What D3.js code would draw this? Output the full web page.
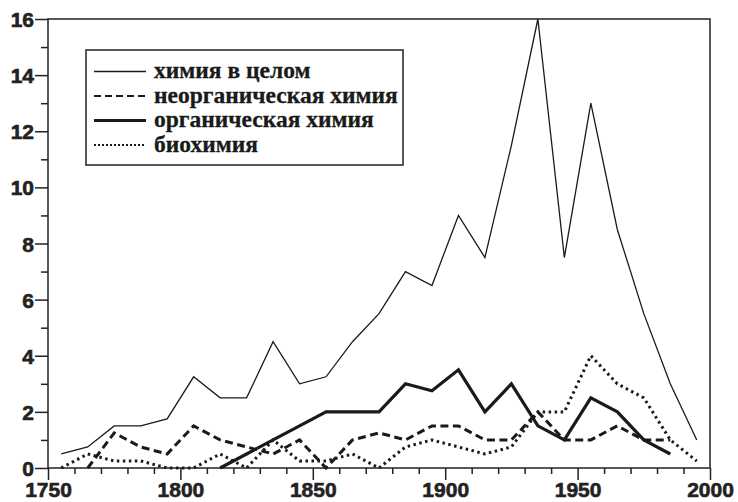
<!DOCTYPE html>
<html>
<head>
<meta charset="utf-8">
<script src="https://cdn.jsdelivr.net/npm/d3@7.9.0/dist/d3.min.js"></script>
<style>
  body { margin: 0; background: #fff; }
  .tick line { stroke: #222; stroke-width: 1.5; }
</style>
</head>
<body>
<svg id="chart" width="738" height="502"></svg>
<script>
const years = [1755, 1765, 1775, 1785, 1795, 1805, 1815, 1825, 1835, 1845, 1855, 1865, 1875,
               1885, 1895, 1905, 1915, 1925, 1935, 1945, 1955, 1965, 1975, 1985, 1995];
const total     = [0.5, 0.75, 1.5, 1.5, 1.75, 3.25, 2.5, 2.5, 4.5, 3, 3.25, 4.5, 5.5,
                   7, 6.5, 9, 7.5, 11.5, 16, 7.5, 13, 8.5, 5.5, 3, 1];
const inorganic = [null, 0, 1.25, 0.75, 0.5, 1.5, 1, 0.75, 0.5, 1, 0, 1, 1.25,
                   1, 1.5, 1.5, 1, 1, 2, 1, 1, 1.5, 1, 1, null];
const organic   = [null, null, null, null, null, null, 0, 0.5, 1, 1.5, 2, 2, 2,
                   3, 2.75, 3.5, 2, 3, 1.5, 1, 2.5, 2, 1, 0.5, null];
const biochem   = [0, 0.5, 0.25, 0.25, 0, 0, 0.5, 0, 1, 0.25, 0.25, 0.5, 0,
                   0.75, 1, 0.75, 0.5, 0.75, 2, 2, 4, 3, 2.5, 1, 0.25];

const seriesNames = ['химия в целом', 'неорганическая химия', 'органическая химия', 'биохимия'];
const xMajor = [1750, 1800, 1850, 1900, 1950, 2000];
const xMinor = [1760, 1770, 1780, 1790, 1810, 1820, 1830, 1840, 1860, 1870, 1880, 1890,
                1910, 1920, 1930, 1940, 1960, 1970, 1980, 1990];
const yMajor = [0, 2, 4, 6, 8, 10, 12, 14, 16];
const yMinor = [1, 3, 5, 7, 9, 11, 13, 15];

const styles = [
  { width: 1.3, dash: null,    legendWidth: 1.3, legendDash: null },
  { width: 3,   dash: '8,4.5', legendWidth: 2.2, legendDash: '7,4' },
  { width: 3.2, dash: null,    legendWidth: 3.2, legendDash: null },
  { width: 3,   dash: '2.5,3.5', legendWidth: 2.2, legendDash: '2,2' }
];
const seriesValues = [total, inorganic, organic, biochem];

const svg = d3.select('#chart');
const margin = { left: 48, right: 710, top: 19, bottom: 468 };

const x = d3.scaleLinear().domain([1750, 2000]).range([margin.left, margin.right]);
const y = d3.scaleLinear().domain([0, 16]).range([margin.bottom, margin.top]);

function styleLabels(g) {
  g.selectAll('text')
    .style('font-family', '"Liberation Sans", Arial, sans-serif')
    .style('font-weight', '700')
    .style('font-size', '21px')
    .style('fill', '#222')
    .style('stroke', '#222')
    .style('stroke-width', '0.6px');
}

// minor ticks
svg.append('g')
  .attr('transform', `translate(0,${margin.bottom})`)
  .call(d3.axisBottom(x).tickValues(xMinor).tickSize(6).tickFormat(''))
  .call(g => g.select('.domain').remove());
svg.append('g')
  .attr('transform', `translate(${margin.left},0)`)
  .call(d3.axisLeft(y).tickValues(yMinor).tickSize(7).tickFormat(''))
  .call(g => g.select('.domain').remove());

// major ticks
svg.append('g')
  .attr('transform', `translate(0,${margin.bottom})`)
  .call(d3.axisBottom(x).tickValues(xMajor).tickSize(12).tickPadding(2).tickFormat(d3.format('d')))
  .call(g => g.select('.domain').remove())
  .call(styleLabels);
svg.append('g')
  .attr('transform', `translate(${margin.left},0)`)
  .call(d3.axisLeft(y).tickValues(yMajor).tickSize(13).tickPadding(1).tickFormat(d3.format('d')))
  .call(g => g.select('.domain').remove())
  .call(styleLabels)
  .call(g => g.selectAll('text').attr('dy', '0.36em'));

// frame
svg.append('rect')
  .attr('x', margin.left).attr('y', margin.top)
  .attr('width', margin.right - margin.left)
  .attr('height', margin.bottom - margin.top)
  .attr('fill', 'none').attr('stroke', '#222').attr('stroke-width', 1.5);

// lines
const line = d3.line()
  .defined(d => d[1] != null)
  .x(d => x(d[0]))
  .y(d => y(d[1]));

seriesValues.forEach((vals, i) => {
  svg.append('path')
    .datum(years.map((yr, j) => [yr, vals[j]]))
    .attr('d', line)
    .attr('fill', 'none')
    .attr('stroke', '#1a1a1a')
    .attr('stroke-width', styles[i].width)
    .attr('stroke-dasharray', styles[i].dash)
    .attr('stroke-linejoin', 'miter');
});

// legend
const legend = svg.append('g');
legend.append('rect')
  .attr('x', 86).attr('y', 50).attr('width', 317).attr('height', 115)
  .attr('fill', '#fff').attr('stroke', '#222').attr('stroke-width', 1.5);

seriesNames.forEach((name, i) => {
  const cy = 71.5 + i * 24.5;
  legend.append('line')
    .attr('x1', 94).attr('x2', 146).attr('y1', cy).attr('y2', cy)
    .attr('stroke', '#1a1a1a')
    .attr('stroke-width', styles[i].legendWidth)
    .attr('stroke-dasharray', styles[i].legendDash);
  legend.append('text')
    .attr('x', 154).attr('y', cy + 6.5)
    .attr('font-family', '"Liberation Serif", "Times New Roman", serif')
    .attr('font-weight', 'bold')
    .attr('font-size', 23.5)
    .attr('fill', '#1a1a1a')
    .attr('stroke', '#1a1a1a')
    .attr('stroke-width', 0.3)
    .text(name);
});
</script>
</body>
</html>
